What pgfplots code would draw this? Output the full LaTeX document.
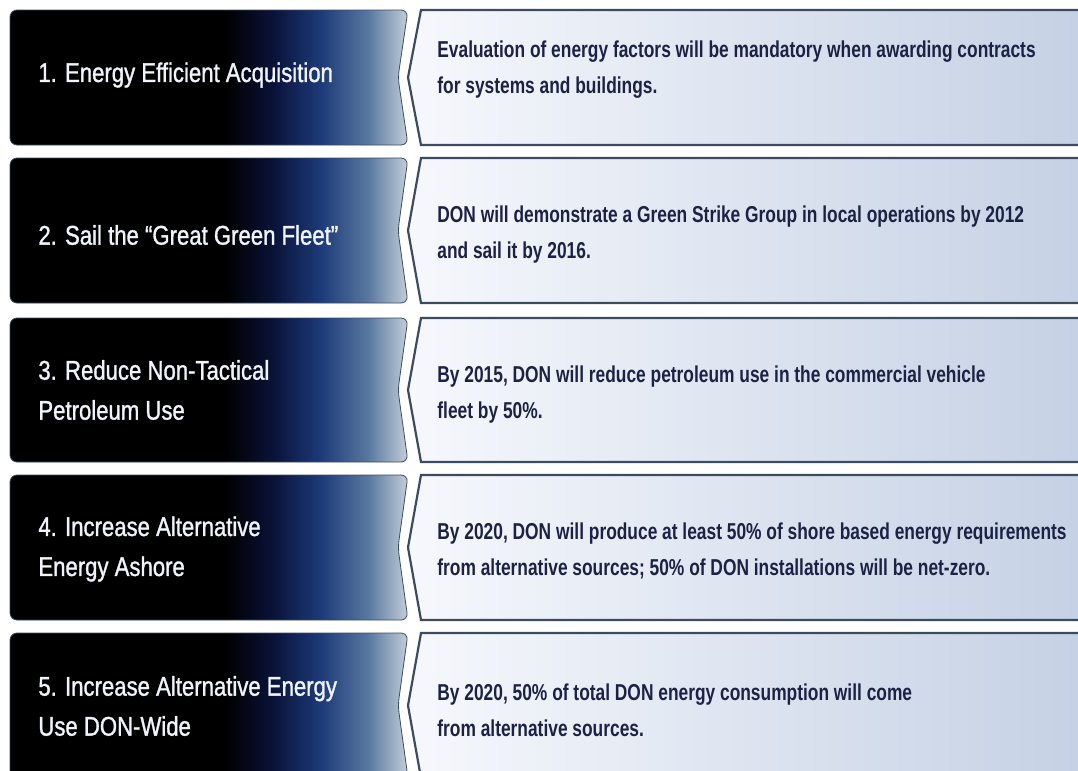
\documentclass[border=0pt]{standalone}
\usepackage{pgfplots}
\pgfplotsset{compat=1.18}
\usepackage{fontspec}
\setmainfont{Liberation Sans}
\newfontfamily\condreg{Liberation Sans}[FakeStretch=0.82, FakeBold=1.2]
\newfontfamily\condbold{Liberation Sans}[FakeStretch=0.755]

\definecolor{navytext}{HTML}{1C2244}
\definecolor{panelline}{HTML}{3D4B60}
\definecolor{lefttext}{HTML}{F0F4FA}
\definecolor{paleL}{HTML}{F6F8FC}
\definecolor{paleR}{HTML}{C4D0E4}

% black -> navy -> steel blue -> pale grey across the label box (box maps to 25bp..75bp)
\pgfdeclarehorizontalshading{labelshade}{100bp}{
  color(0bp)=(black); color(25bp)=(black); color(52bp)=(black);
  color(58bp)=({rgb,255:red,10;green,18;blue,56}); color(64bp)=({rgb,255:red,28;green,58;blue,120});
  color(70bp)=({rgb,255:red,88;green,120;blue,160}); color(75bp)=({rgb,255:red,196;green,206;blue,216});
  color(100bp)=({rgb,255:red,196;green,206;blue,216})}

\begin{document}
\begin{tikzpicture}
\begin{axis}[
  name=ax,
  width=539pt, height=385.5pt,
  scale only axis,
  hide axis,
  clip=true,
  xmin=0, xmax=1078,
  ymin=0, ymax=771,
  y dir=reverse,
  ]
  % left label boxes (chevron notch on the right side)
  \addplot[shade, shading=labelshade, draw=panelline, line width=0.4pt, rounded corners=3.5pt, mark=none]
    coordinates {(10,10) (408,10) (398,77.5) (408,145) (10,145)} -- cycle;
  \addplot[shade, shading=labelshade, draw=panelline, line width=0.4pt, rounded corners=3.5pt, mark=none]
    coordinates {(10,158) (408,158) (398,230.5) (408,303) (10,303)} -- cycle;
  \addplot[shade, shading=labelshade, draw=panelline, line width=0.4pt, rounded corners=3.5pt, mark=none]
    coordinates {(10,318) (408,318) (398,390) (408,462) (10,462)} -- cycle;
  \addplot[shade, shading=labelshade, draw=panelline, line width=0.4pt, rounded corners=3.5pt, mark=none]
    coordinates {(10,475) (408,475) (398,547.5) (408,620) (10,620)} -- cycle;
  \addplot[shade, shading=labelshade, draw=panelline, line width=0.4pt, rounded corners=3.5pt, mark=none]
    coordinates {(10,633) (408,633) (398,705.5) (408,778) (10,778)} -- cycle;

  % right description boxes
  \addplot[left color=paleL, right color=paleR, draw=panelline, line width=1.1pt, mark=none]
    coordinates {(421,10) (1095,10) (1095,145) (421,145) (408,77.5)} -- cycle;
  \addplot[left color=paleL, right color=paleR, draw=panelline, line width=1.1pt, mark=none]
    coordinates {(421,158) (1095,158) (1095,303) (421,303) (408,230.5)} -- cycle;
  \addplot[left color=paleL, right color=paleR, draw=panelline, line width=1.1pt, mark=none]
    coordinates {(421,318) (1095,318) (1095,462) (421,462) (408,390)} -- cycle;
  \addplot[left color=paleL, right color=paleR, draw=panelline, line width=1.1pt, mark=none]
    coordinates {(421,475) (1095,475) (1095,620) (421,620) (408,547.5)} -- cycle;
  \addplot[left color=paleL, right color=paleR, draw=panelline, line width=1.1pt, mark=none]
    coordinates {(421,633) (1095,633) (1095,778) (421,778) (408,705.5)} -- cycle;

  % labels
  \begin{scope}[every node/.style={anchor=west, align=left, inner sep=0pt, text=lefttext,
      font=\condreg\fontsize{13.5}{20}\selectfont}]
    \node at (axis cs:38,75) {1. Energy Efficient Acquisition};
    \node at (axis cs:38,235) {2. Sail the “Great Green Fleet”};
    \node at (axis cs:38,390) {3. Reduce Non-Tactical\\Petroleum Use};
    \node at (axis cs:38,549) {4. Increase Alternative\\Energy Ashore};
    \node at (axis cs:38,706) {5. Increase Alternative Energy\\Use DON-Wide};
  \end{scope}

  \begin{scope}[every node/.style={anchor=west, align=left, inner sep=0pt, text=navytext,
      font=\condbold\bfseries\fontsize{11.5}{18}\selectfont}]
    \node at (axis cs:437,70) {Evaluation of energy factors will be mandatory when awarding contracts\\for systems and buildings.};
    \node at (axis cs:437,235) {DON will demonstrate a Green Strike Group in local operations by 2012\\and sail it by 2016.};
    \node at (axis cs:437,395) {By 2015, DON will reduce petroleum use in the commercial vehicle\\fleet by 50\%.};
    \node at (axis cs:437,551) {By 2020, DON will produce at least 50\% of shore based energy requirements\\from alternative sources; 50\% of DON installations will be net-zero.};
    \node at (axis cs:437,710) {By 2020, 50\% of total DON energy consumption will come\\from alternative sources.};
  \end{scope}
\end{axis}
\pgfresetboundingbox
\path[use as bounding box] (ax.south west) rectangle (ax.north east);
\end{tikzpicture}
\end{document}
